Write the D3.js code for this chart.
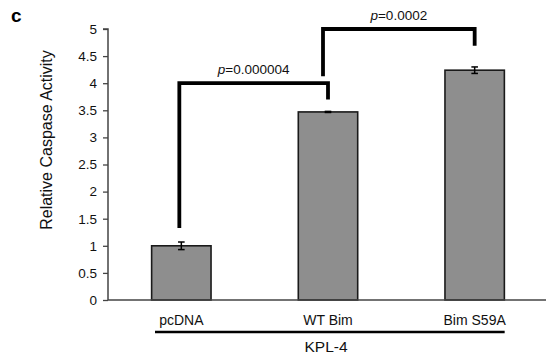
<!DOCTYPE html>
<html>
<head>
<meta charset="utf-8">
<script src="https://cdn.jsdelivr.net/npm/d3@7"></script>
<style>
  body { margin: 0; background: #fff; }
  svg { display: block; font-family: "Liberation Sans", Arial, sans-serif; }
</style>
</head>
<body>
<div id="chart"></div>
<script>
// data
var categories = ["pcDNA", "WT Bim", "Bim S59A"];
var means = [1.0, 3.47, 4.24];
var errors = [0.07, 0.01, 0.06];
var yTicks = [0, 0.5, 1, 1.5, 2, 2.5, 3, 3.5, 4, 4.5, 5];
var groupLabel = "KPL-4";
var yTitle = "Relative Caspase Activity";
// significance brackets: [from, to, level, left leg end, right leg end, p]
var brackets = [
  ["pcDNA", "WT Bim", 4.0, 1.33, 3.7, "0.000004"],
  ["WT Bim", "Bim S59A", 5.0, 4.13, 4.69, "0.0002"]
];

var width = 546, height = 358;
var svg = d3.select("#chart").append("svg")
  .attr("width", width)
  .attr("height", height);

var x = d3.scaleBand().domain(categories).range([108, 548]);
var y = d3.scaleLinear().domain([0, 5]).range([300, 29]);
var barW = x.bandwidth() * 0.405;
function cx(c) { return x(c) + x.bandwidth() / 2; }

// panel letter
svg.append("text")
  .attr("x", 11).attr("y", 22)
  .style("font-size", "19px").style("font-weight", "bold")
  .text("c");

// y axis
var yAxis = svg.append("g")
  .attr("transform", "translate(108,0)")
  .call(d3.axisLeft(y).tickValues(yTicks).tickSize(5).tickPadding(6).tickFormat(function (d) { return String(d); }));
yAxis.select(".domain").attr("stroke", "#444").attr("stroke-width", 1.5).attr("d", "M-5," + y(5) + "H0V" + y(0));
yAxis.selectAll(".tick line").attr("stroke", "#444").attr("stroke-width", 1.3);
yAxis.selectAll(".tick text").style("font-size", "13.5px").attr("fill", "#111").attr("font-family", null);

// y title
svg.append("text")
  .attr("transform", "translate(52,140) rotate(-90)")
  .attr("text-anchor", "middle")
  .style("font-size", "16px")
  .attr("fill", "#111")
  .text(yTitle);

// bars
svg.selectAll(".bar")
  .data(categories)
  .enter().append("rect")
  .attr("class", "bar")
  .attr("x", function (d) { return cx(d) - barW / 2; })
  .attr("y", function (d, i) { return y(means[i]); })
  .attr("width", barW)
  .attr("height", function (d, i) { return y(0) - y(means[i]); })
  .attr("fill", "#8e8e8e")
  .attr("stroke", "#1a1a1a")
  .attr("stroke-width", 1.6);

// x axis line
svg.append("line")
  .attr("x1", 108).attr("x2", width)
  .attr("y1", y(0)).attr("y2", y(0))
  .attr("stroke", "#444").attr("stroke-width", 1.5);

// error bars
var eb = svg.selectAll(".err")
  .data(categories)
  .enter().append("g")
  .attr("class", "err")
  .attr("stroke", "#000").attr("stroke-width", 1.5);
eb.append("line")
  .attr("x1", cx).attr("x2", cx)
  .attr("y1", function (d, i) { return y(means[i] + errors[i]); })
  .attr("y2", function (d, i) { return y(means[i] - errors[i]); });
eb.append("line")
  .attr("x1", function (d) { return cx(d) - 3.3; }).attr("x2", function (d) { return cx(d) + 3.3; })
  .attr("y1", function (d, i) { return y(means[i] + errors[i]); })
  .attr("y2", function (d, i) { return y(means[i] + errors[i]); });
eb.append("line")
  .attr("x1", function (d) { return cx(d) - 3.3; }).attr("x2", function (d) { return cx(d) + 3.3; })
  .attr("y1", function (d, i) { return y(means[i] - errors[i]); })
  .attr("y2", function (d, i) { return y(means[i] - errors[i]); });

// brackets
var legShift = [-2, -5];
brackets.forEach(function (b, i) {
  var x1 = cx(b[0]) + legShift[i], x2 = cx(b[1]);
  svg.append("path")
    .attr("d", "M" + x1 + "," + y(b[3]) + "V" + y(b[2]) + "H" + x2 + "V" + y(b[4]))
    .attr("fill", "none")
    .attr("stroke", "#000")
    .attr("stroke-width", 3.8)
    .attr("stroke-linejoin", "miter");
  var t = svg.append("text")
    .attr("x", (x1 + x2) / 2)
    .attr("y", y(b[2]) - 9)
    .attr("text-anchor", "middle")
    .style("font-size", "13.5px")
    .attr("fill", "#111");
  t.append("tspan").style("font-style", "italic").text("p");
  t.append("tspan").text("=" + b[5]);
});

// category labels
svg.selectAll(".cat")
  .data(categories)
  .enter().append("text")
  .attr("class", "cat")
  .attr("x", cx)
  .attr("y", 325)
  .attr("text-anchor", "middle")
  .style("font-size", "14px")
  .attr("fill", "#111")
  .text(function (d) { return d; });

// group line + label
svg.append("line")
  .attr("x1", x(categories[0]) + 47).attr("x2", cx(categories[2]) + 30)
  .attr("y1", 332).attr("y2", 332)
  .attr("stroke", "#000").attr("stroke-width", 2.5);
svg.append("text")
  .attr("x", cx(categories[1]) - 2)
  .attr("y", 352)
  .attr("text-anchor", "middle")
  .style("font-size", "15.5px")
  .attr("fill", "#111")
  .text(groupLabel);
</script>
</body>
</html>
